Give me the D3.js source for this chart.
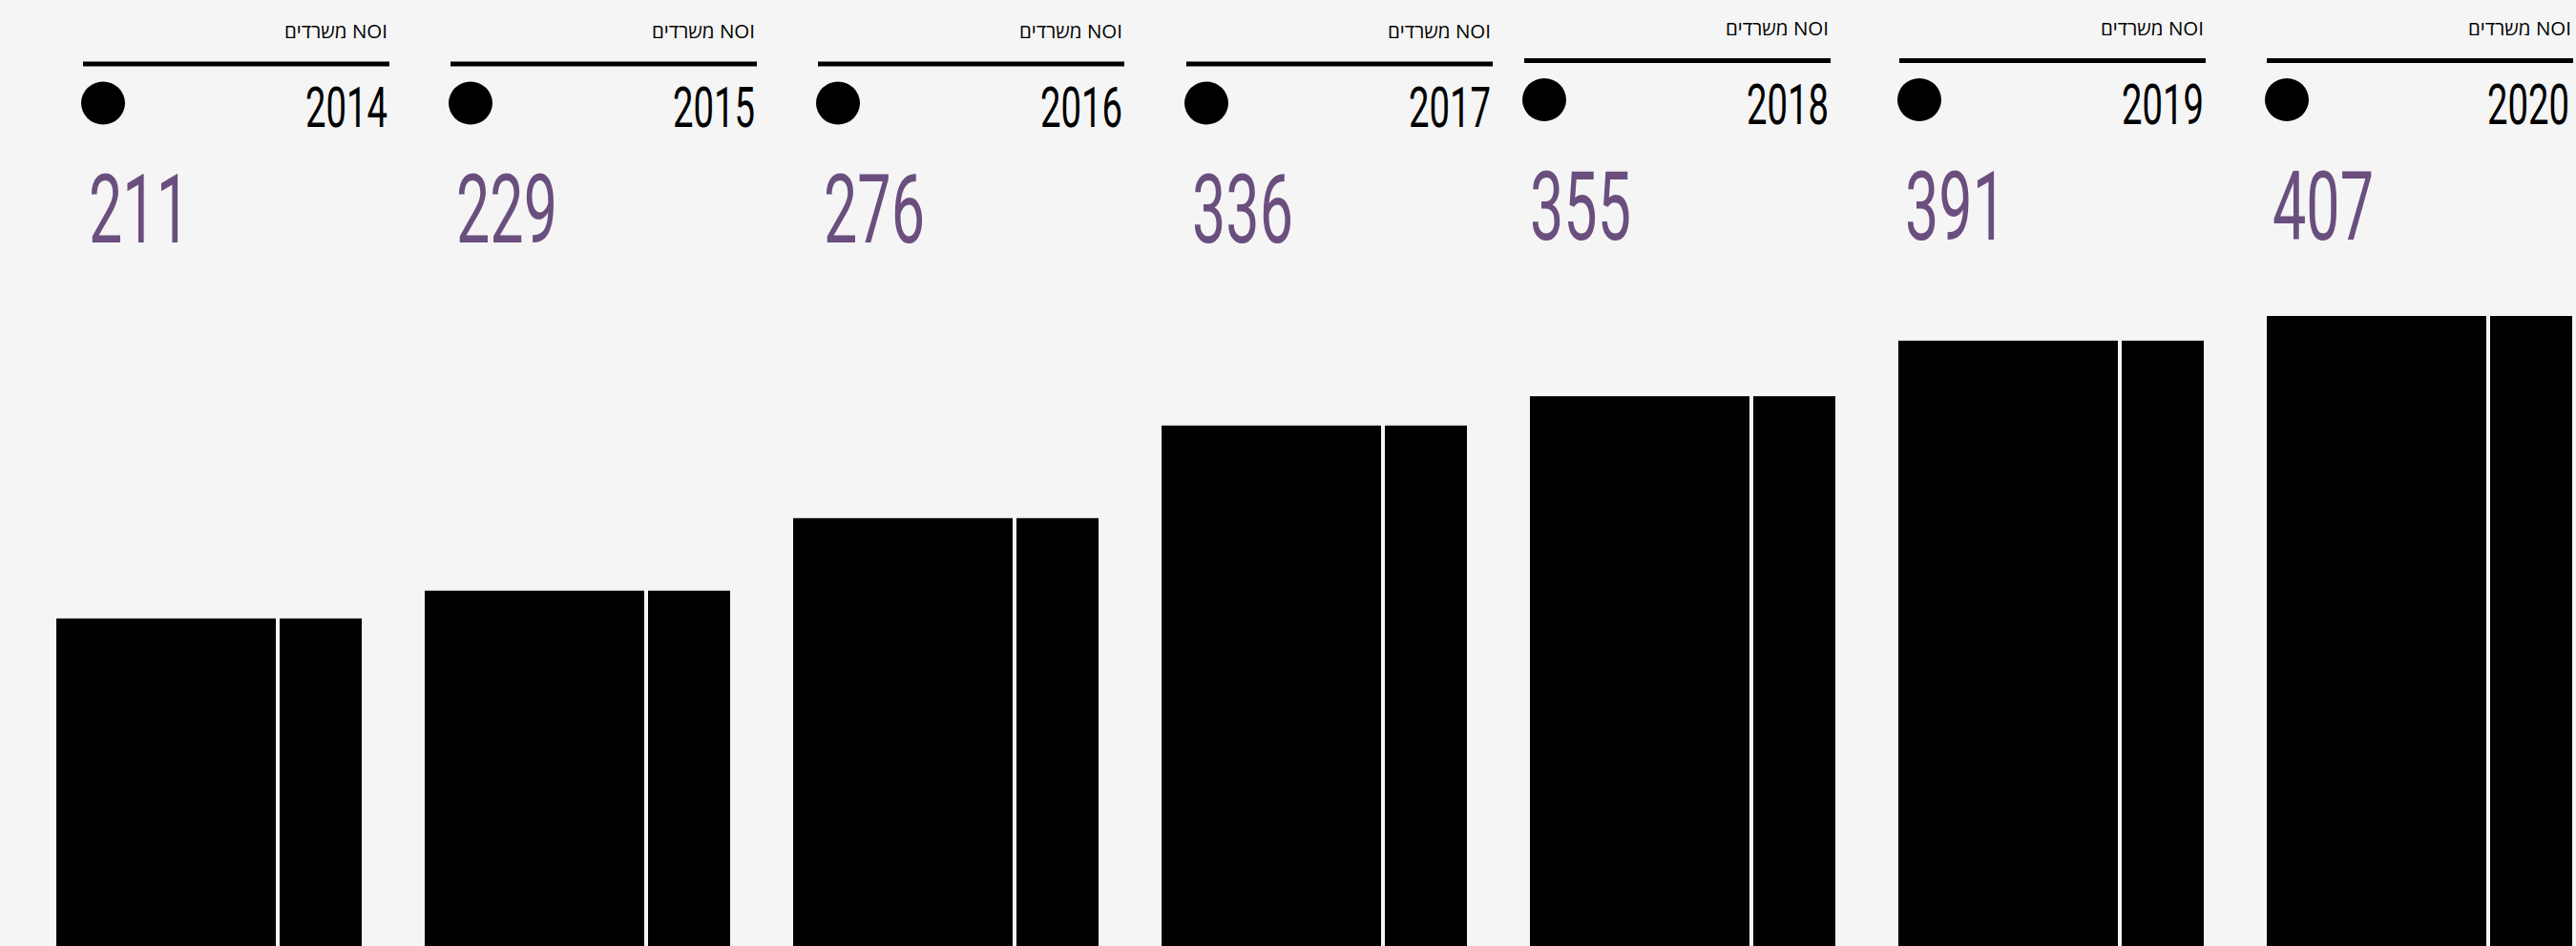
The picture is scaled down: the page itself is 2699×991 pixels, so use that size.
<!DOCTYPE html>
<html>
<head>
<meta charset="utf-8">
<script src="https://cdn.jsdelivr.net/npm/d3@7"></script>
<style>
  html, body { margin: 0; padding: 0; background: #f5f5f5; overflow: hidden; }
  svg { display: block; }
</style>
</head>
<body>
<svg id="chart"></svg>
<script>
// Chart size
const W = 2699, H = 991;

// Data
const years = ["2014", "2015", "2016", "2017", "2018", "2019", "2020"];
const offices = [211, 229, 276, 336, 355, 391, 407];
const headerLabel = "NOI משרדים";

// Layout constants
const mainBarW = 230, barGap = 4;
const headerW = 321;
const headerShift = [28, 27, 26, 26, -6, 1, 0];
const headerRaise = [0, 0, 0, 0, 3.5, 3.5, 3.5];
const purple = "#6a4f7e";

const svg = d3.select("#chart").attr("width", W).attr("height", H);
svg.append("rect").attr("width", W).attr("height", H).attr("fill", "#f5f5f5");

const x = d3.scaleBand()
  .domain(years)
  .range([59, 2695])
  .paddingInner(66 / 386)
  .paddingOuter(0);

const y = d3.scaleLinear().domain([0, 407]).range([989, 331]);
const bw = x.bandwidth();

const rows = years.map((yr, i) => ({ yr, v: offices[i], i }));

const panels = svg.selectAll("g.panel")
  .data(rows)
  .join("g")
  .attr("class", "panel");

// Two-part column per year
panels.append("rect")
  .attr("x", d => x(d.yr))
  .attr("y", d => y(d.v))
  .attr("width", mainBarW)
  .attr("height", d => H - y(d.v))
  .attr("fill", "#000");

panels.append("rect")
  .attr("x", d => x(d.yr) + mainBarW + barGap)
  .attr("y", d => y(d.v))
  .attr("width", bw - mainBarW - barGap)
  .attr("height", d => H - y(d.v))
  .attr("fill", "#000");

// Header block: label, rule, dot, year, value
const head = panels.append("g")
  .attr("transform", d => `translate(${x(d.yr) + headerShift[d.i]},${-headerRaise[d.i]})`);

head.append("text")
  .attr("x", headerW - 2)
  .attr("y", 40)
  .attr("direction", "rtl")
  .attr("text-anchor", "start")
  .attr("font-family", "'Open Sans', 'DejaVu Sans', sans-serif")
  .attr("font-size", 20.5)
  .attr("fill", "#000")
  .text(headerLabel);

head.append("rect")
  .attr("x", 0)
  .attr("y", 64.5)
  .attr("width", headerW)
  .attr("height", 5)
  .attr("fill", "#000");

head.append("ellipse")
  .attr("cx", 21)
  .attr("cy", 108)
  .attr("rx", 23)
  .attr("ry", 22.5)
  .attr("fill", "#000");

head.append("text")
  .attr("x", d => headerW - (d.i === years.length - 1 ? 4 : 2))
  .attr("y", 133)
  .attr("text-anchor", "end")
  .attr("font-family", "Roboto, sans-serif")
  .attr("font-weight", 400)
  .attr("font-size", 60)
  .attr("textLength", 86)
  .attr("lengthAdjust", "spacingAndGlyphs")
  .attr("fill", "#000")
  .text(d => d.yr);

head.append("text")
  .attr("x", 6)
  .attr("y", 254)
  .attr("text-anchor", "start")
  .attr("font-family", "Roboto, sans-serif")
  .attr("font-weight", 400)
  .attr("font-size", 101)
  .attr("textLength", 106)
  .attr("lengthAdjust", "spacingAndGlyphs")
  .attr("fill", purple)
  .text(d => d.v);
</script>
</body>
</html>
